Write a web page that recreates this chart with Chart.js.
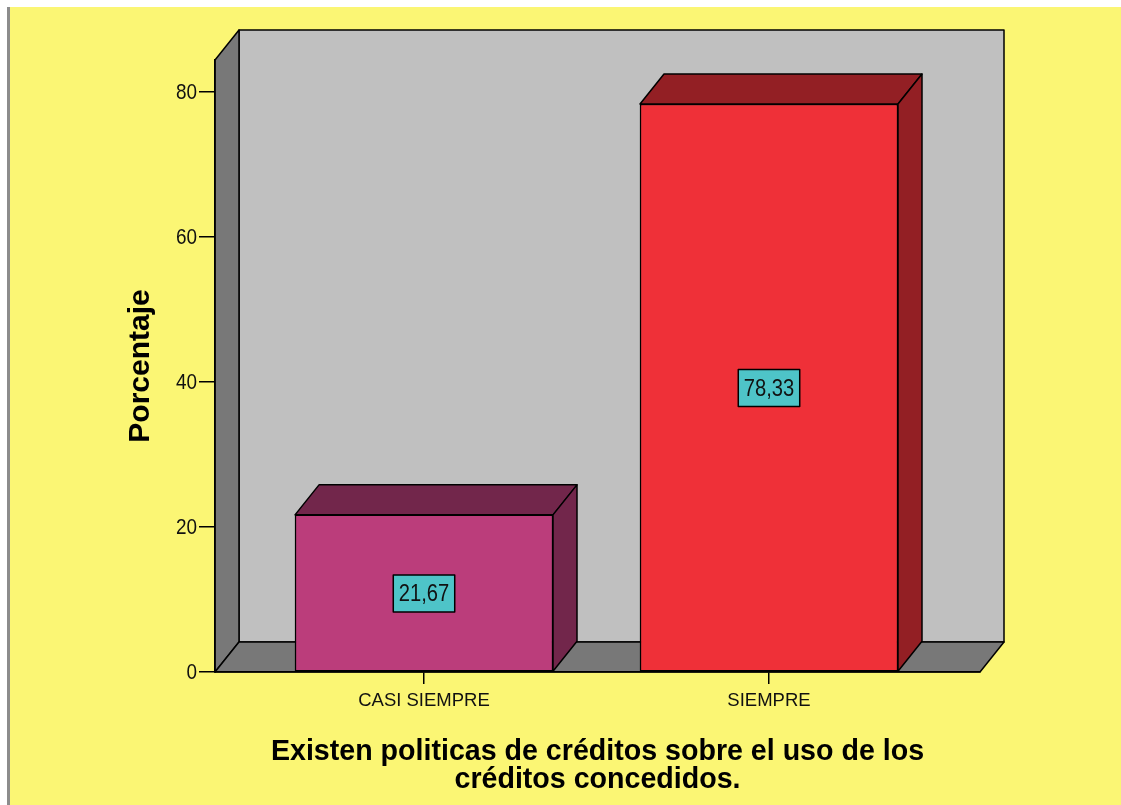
<!DOCTYPE html>
<html>
<head>
<meta charset="utf-8">
<script src="https://cdn.jsdelivr.net/npm/chart.js@4.4.1/dist/chart.umd.min.js"></script>
<style>
  html, body { margin: 0; padding: 0; background: #fff; }
  #wrap { width: 1121px; height: 805px; }
</style>
</head>
<body>
<div id="wrap"><canvas id="chart" width="1121" height="805"></canvas></div>
<script>
const categories = ['CASI SIEMPRE', 'SIEMPRE'];
const percentages = [21.67, 78.33];
const yTicks = [0, 20, 40, 60, 80];
const yMax = 84.4;
const xTitle = ['Existen politicas de créditos sobre el uso de los', 'créditos concedidos.'];
const yTitle = 'Porcentaje';

const faceColors = ['#bb3d7b', '#ef3038'];
const shadeColors = ['#72264b', '#931f24'];
const depth = { dx: 24, dy: 30 };
const sans = "'Liberation Sans', Arial, sans-serif";

function poly(ctx, pts, fill) {
  ctx.beginPath();
  ctx.moveTo(pts[0][0], pts[0][1]);
  for (let i = 1; i < pts.length; i++) ctx.lineTo(pts[i][0], pts[i][1]);
  ctx.closePath();
  ctx.fillStyle = fill;
  ctx.fill();
  ctx.stroke();
}

// narrow lettering: squeeze the glyphs horizontally around their anchor
function narrowText(ctx, txt, x, y, squeeze) {
  ctx.save();
  ctx.translate(x, y);
  ctx.scale(squeeze, 1);
  ctx.fillText(txt, 0, 0);
  ctx.restore();
}

// yellow page, grey back wall, darker side wall and floor
const backdrop = {
  id: 'backdrop',
  beforeDraw(chart) {
    const { ctx, width, height, chartArea: a } = chart;
    const { dx, dy } = depth;
    ctx.save();
    ctx.fillStyle = '#fff';
    ctx.fillRect(0, 0, width, height);
    ctx.fillStyle = '#fbf674';
    ctx.fillRect(10, 7, width - 10, height - 7);
    ctx.fillStyle = '#8c8c8c';
    ctx.fillRect(7, 7, 3, height - 7);
    ctx.lineWidth = 1.5;
    ctx.strokeStyle = '#000';
    ctx.lineJoin = 'round';
    poly(ctx, [[a.left + dx, a.top - dy], [a.right + dx, a.top - dy], [a.right + dx, a.bottom - dy], [a.left + dx, a.bottom - dy]], '#c0c0c0');
    poly(ctx, [[a.left, a.top], [a.left + dx, a.top - dy], [a.left + dx, a.bottom - dy], [a.left, a.bottom]], '#787878');
    poly(ctx, [[a.left, a.bottom], [a.left + dx, a.bottom - dy], [a.right + dx, a.bottom - dy], [a.right, a.bottom]], '#787878');
    ctx.restore();
  }
};

// top and side faces of each bar, value boxes, y tick labels
const boxes3d = {
  id: 'boxes3d',
  afterDatasetsDraw(chart) {
    const { ctx } = chart;
    const { dx, dy } = depth;
    const meta = chart.getDatasetMeta(0);
    const yScale = chart.scales.y;
    ctx.save();
    ctx.lineWidth = 1.5;
    ctx.strokeStyle = '#000';
    ctx.lineJoin = 'round';
    meta.data.forEach((bar, i) => {
      const { x, y, base, width } = bar.getProps(['x', 'y', 'base', 'width'], true);
      const l = x - width / 2, r = x + width / 2;
      poly(ctx, [[l, y], [l + dx, y - dy], [r + dx, y - dy], [r, y]], shadeColors[i]);
      poly(ctx, [[r, y], [r + dx, y - dy], [r + dx, base - dy], [r, base]], shadeColors[i]);
    });

    ctx.font = '24px ' + sans;
    ctx.textAlign = 'center';
    ctx.textBaseline = 'middle';
    const squeeze = 0.84;
    meta.data.forEach((bar, i) => {
      const v = percentages[i];
      const txt = v.toFixed(2).replace('.', ',');
      const cy = yScale.getPixelForValue(v / 2);
      const w = ctx.measureText(txt).width * squeeze + 11;
      const h = 37;
      ctx.fillStyle = '#4ec4c8';
      ctx.fillRect(bar.x - w / 2, cy - h / 2, w, h);
      ctx.strokeRect(bar.x - w / 2, cy - h / 2, w, h);
      ctx.fillStyle = '#111';
      narrowText(ctx, txt, bar.x, cy + 1, squeeze);
    });

    ctx.font = '22px ' + sans;
    ctx.textAlign = 'right';
    ctx.fillStyle = '#111';
    const labelRight = chart.chartArea.left - 18;
    yScale.ticks.forEach(t => {
      narrowText(ctx, String(t.value), labelRight, yScale.getPixelForValue(t.value) + 1, 0.86);
    });
    ctx.restore();
  }
};

new Chart(document.getElementById('chart'), {
  type: 'bar',
  data: {
    datasets: [{
      data: percentages.map((v, i) => ({ x: i, y: v })),
      backgroundColor: faceColors,
      borderColor: '#000',
      borderWidth: 1.5,
      borderSkipped: false,
      barThickness: 258
    }]
  },
  options: {
    responsive: false,
    animation: false,
    layout: { padding: { top: 60, right: 141, bottom: 0, left: 100 } },
    plugins: { legend: { display: false }, tooltip: { enabled: false } },
    scales: {
      x: {
        type: 'linear',
        offset: false,
        min: -0.6058,
        max: 1.6116,
        afterBuildTicks: s => { s.ticks = categories.map((_, i) => ({ value: i })); },
        afterFit: s => { s.height = 133; },
        ticks: {
          callback: v => categories[v],
          color: '#111',
          font: { family: sans, size: 18.5 },
          padding: 6,
          maxRotation: 0,
          autoSkip: false
        },
        grid: { offset: false, drawOnChartArea: false, drawTicks: true, tickLength: 12, color: '#000', lineWidth: 1.5 },
        border: { display: true, color: '#000', width: 1.5 },
        title: {
          display: true,
          text: xTitle,
          color: '#000',
          font: { family: sans, size: 28.6, weight: 'bold', lineHeight: 0.98 },
          padding: { top: 0, bottom: 11 }
        }
      },
      y: {
        min: 0,
        max: yMax,
        afterBuildTicks: s => { s.ticks = yTicks.map(v => ({ value: v })); },
        afterFit: s => { s.width = 115; },
        ticks: { display: false },
        grid: { drawOnChartArea: false, drawTicks: true, tickLength: 16, color: '#000', lineWidth: 1.5 },
        border: { display: true, color: '#000', width: 1.5 },
        title: {
          display: true,
          text: yTitle,
          color: '#000',
          font: { family: sans, size: 30, weight: 'bold' },
          padding: { top: 23, bottom: 0 }
        }
      }
    }
  },
  plugins: [backdrop, boxes3d]
});
</script>
</body>
</html>
